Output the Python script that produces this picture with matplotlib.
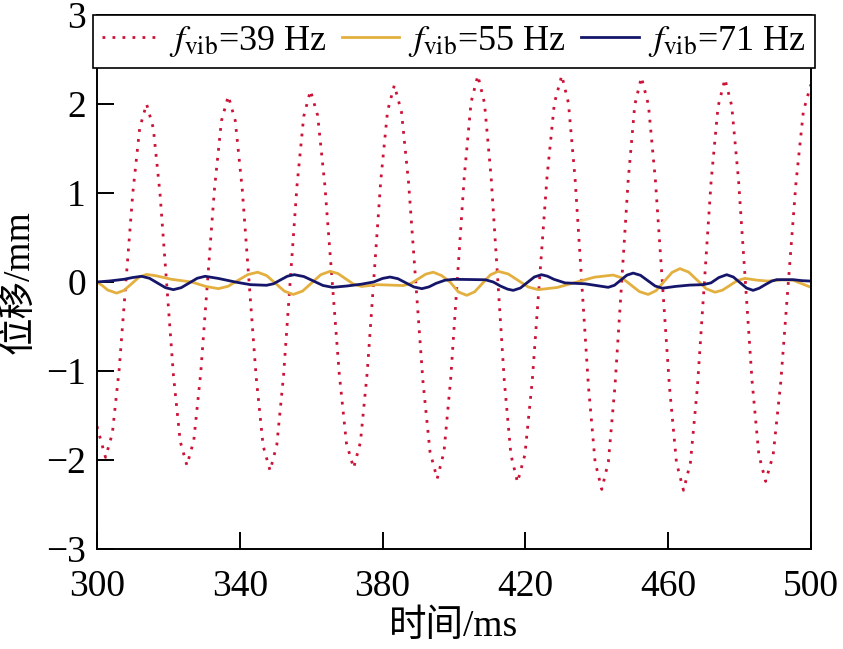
import matplotlib
matplotlib.use('Agg')
import matplotlib.pyplot as plt

plt.rcParams['font.family'] = ['Liberation Serif', 'Noto Sans CJK SC']
plt.rcParams['mathtext.fontset'] = 'stix'
plt.rcParams['axes.unicode_minus'] = True

# red curve, f_vib = 39 Hz
t_39 = [300.0, 302.4, 304.32, 306.23, 308.15, 310.07, 311.98, 313.9,
        315.78, 317.67, 319.55, 321.43, 323.32, 325.2,
        327.13, 329.07, 331.0, 332.93, 334.87, 336.8,
        338.75, 340.7, 342.65, 344.6, 346.55, 348.5,
        350.38, 352.27, 354.15, 356.03, 357.92, 359.8,
        361.82, 363.83, 365.85, 367.87, 369.88, 371.9,
        373.8, 375.7, 377.6, 379.5, 381.4, 383.3,
        385.3, 387.3, 389.3, 391.3, 393.3, 395.3,
        397.2, 399.1, 401.0, 402.9, 404.8, 406.7,
        408.55, 410.4, 412.25, 414.1, 415.95, 417.8,
        419.87, 421.93, 424.0, 426.07, 428.13, 430.2,
        432.07, 433.93, 435.8, 437.67, 439.53, 441.4,
        443.25, 445.1, 446.95, 448.8, 450.65, 452.5,
        454.47, 456.43, 458.4, 460.37, 462.33, 464.3,
        466.23, 468.17, 470.1, 472.03, 473.97, 475.9,
        477.8, 479.7, 481.6, 483.5, 485.4, 487.3,
        489.42, 491.53, 493.65, 495.77, 497.88, 500.0]
y_39 = [-1.62, -1.97, -1.70, -0.98, 0.02, 1.01, 1.73, 2.00,
        1.73, 0.99, -0.03, -1.05, -1.79, -2.06,
        -1.78, -1.02, 0.02, 1.05, 1.81, 2.09,
        1.81, 1.04, -0.02, -1.07, -1.84, -2.12,
        -1.83, -1.05, 0.02, 1.08, 1.86, 2.15,
        1.87, 1.09, 0.03, -1.03, -1.81, -2.09,
        -1.80, -1.02, 0.06, 1.14, 1.92, 2.21,
        1.91, 1.11, 0.00, -1.11, -1.91, -2.21,
        -1.91, -1.08, 0.06, 1.19, 2.02, 2.32,
        2.01, 1.18, 0.04, -1.11, -1.94, -2.25,
        -1.94, -1.11, 0.04, 1.18, 2.01, 2.32,
        2.01, 1.16, -0.01, -1.17, -2.02, -2.33,
        -2.02, -1.17, -0.02, 1.14, 1.99, 2.30,
        1.99, 1.14, -0.02, -1.18, -2.03, -2.34,
        -2.03, -1.19, -0.03, 1.13, 1.97, 2.28,
        1.98, 1.15, 0.02, -1.11, -1.94, -2.24,
        -1.94, -1.13, -0.01, 1.10, 1.92, 2.22]

# yellow curve, f_vib = 55 Hz
t_55 = [300.0, 301.5, 303.0, 305.5, 307.6, 309.7, 311.8, 313.9,
        316.5, 320.9, 326.5, 330.5, 334.0,
        336.75, 339.5, 342.25, 345.0,
        347.5, 350.0, 352.5, 355.0,
        357.6, 360.15, 362.7, 365.3,
        367.5, 369.7, 371.9, 374.1, 378.5, 385.8,
        387.9, 390.0, 392.1, 394.2,
        396.55, 398.9, 401.25, 403.6,
        405.8, 408.0, 410.2, 412.4,
        415.2, 418.0, 420.8, 423.6,
        428.85, 434.1, 439.35, 444.6,
        447.05, 449.5, 451.95, 454.4,
        456.6, 458.85, 461.1, 463.3,
        465.75, 468.2, 470.65, 473.1,
        475.2, 477.3, 479.4, 481.5,
        485.0, 488.0, 492.0, 495.0, 497.5, 500.0]
y_55 = [0.0, -0.04, -0.09, -0.125, -0.094, -0.02, 0.054, 0.085,
        0.07, 0.03, 0.0, -0.05, -0.075,
        -0.048, 0.018, 0.083, 0.11,
        0.073, -0.015, -0.103, -0.14,
        -0.102, -0.01, 0.082, 0.12,
        0.095, 0.035, -0.025, -0.05, -0.03, -0.04,
        -0.018, 0.035, 0.088, 0.11,
        0.072, 0.0, -0.112, -0.15,
        -0.11, -0.015, 0.08, 0.12,
        0.09, 0.017, -0.056, -0.086,
        -0.062, -0.004, 0.054, 0.078,
        0.046, -0.031, -0.108, -0.14,
        -0.098, 0.005, 0.108, 0.15,
        0.111, 0.018, -0.076, -0.115,
        -0.092, -0.038, 0.017, 0.04,
        0.02, 0.01, 0.025, 0.02, -0.02, -0.06]

# navy curve, f_vib = 71 Hz
t_71 = [300.0, 303.7, 307.5, 310.0, 312.5,
        314.7, 316.95, 319.2, 321.4,
        323.6, 325.85, 328.1, 330.3,
        334.0, 338.7, 343.0, 347.5,
        349.45, 351.4, 353.35, 355.3,
        357.98, 360.65, 363.3, 366.0,
        370.0, 374.0, 377.5, 380.0, 382.1,
        384.3, 386.55, 388.8, 391.0,
        393.0, 395.0, 397.5, 400.0, 404.0, 408.8,
        411.0, 413.0, 415.0, 416.6,
        418.6, 420.55, 422.5, 424.5,
        426.2, 428.0, 431.1, 436.7, 443.2,
        444.95, 446.7, 448.45, 450.2,
        452.25, 454.3, 456.35, 458.4,
        462.0, 466.0, 469.8, 472.0, 474.2, 476.4,
        478.25, 480.1, 481.95, 483.8,
        485.5, 487.2, 489.0, 490.4, 495.0, 497.5, 500.0]
y_71 = [0.0, 0.012, 0.03, 0.05, 0.064,
        0.042, -0.011, -0.064, -0.086,
        -0.064, -0.011, 0.042, 0.064,
        0.04, 0.0, -0.03, -0.037,
        -0.02, 0.023, 0.065, 0.082,
        0.061, 0.011, -0.039, -0.06,
        -0.045, -0.025, 0.0, 0.04, 0.056,
        0.037, -0.01, -0.056, -0.075,
        -0.055, -0.015, 0.02, 0.03, 0.028, 0.025,
        0.0, -0.045, -0.08, -0.094,
        -0.068, -0.006, 0.056, 0.082,
        0.065, 0.03, -0.01, -0.02, -0.06,
        -0.037, 0.02, 0.077, 0.10,
        0.075, 0.015, -0.045, -0.07,
        -0.05, -0.035, -0.03, -0.01, 0.05, 0.082,
        0.056, -0.006, -0.068, -0.094,
        -0.07, -0.03, 0.01, 0.026, 0.026, 0.015, 0.01]

labels = [r'$f_{\mathrm{vib}}$=39 Hz', r'$f_{\mathrm{vib}}$=55 Hz', r'$f_{\mathrm{vib}}$=71 Hz']
x_ticks = [300, 340, 380, 420, 460, 500]
y_ticks = [-3, -2, -1, 0, 1, 2, 3]

fig = plt.figure(figsize=(8.43, 6.49), dpi=100)
ax = fig.add_axes([0.115, 0.154, 0.847, 0.823])

ax.plot(t_39, y_39, color='#CC1236', lw=2.0, linestyle=(0, (1, 2.6)), label=labels[0])
ax.plot(t_55, y_55, color='#E3B040', lw=2.0, solid_joinstyle='round', label=labels[1])
ax.plot(t_71, y_71, color='#15166A', lw=2.0, solid_joinstyle='round', label=labels[2])

ax.set_xlim(300, 500)
ax.set_ylim(-3, 3)
ax.set_xticks(x_ticks)
ax.set_yticks(y_ticks)
ax.tick_params(direction='in', length=12, width=1.4, labelsize=27,
               top=False, right=False)
ax.tick_params(axis='x', pad=15)
ax.tick_params(axis='y', pad=8)
for s in ax.spines.values():
    s.set_linewidth(1.4)

ax.set_xlabel('时间/ms', fontsize=27, labelpad=4)
ax.set_ylabel('位移/mm', fontsize=27, labelpad=6)

leg = ax.legend(loc='upper center', bbox_to_anchor=(0.5, 1.0), ncol=3, fontsize=26,
                frameon=True, fancybox=False, edgecolor='black', framealpha=1,
                borderaxespad=0, handlelength=1.6, handletextpad=0.25,
                columnspacing=0.4, borderpad=0.25)
leg.get_frame().set_linewidth(1.2)

plt.savefig('out.png', dpi=100)
